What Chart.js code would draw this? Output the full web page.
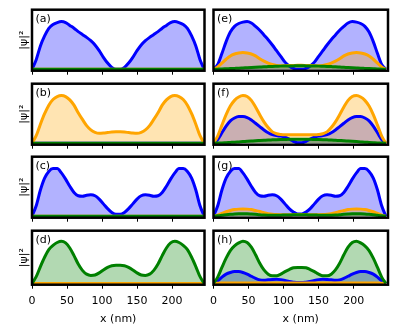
<!DOCTYPE html>
<html>
<head>
<meta charset="utf-8">
<script src="https://cdn.jsdelivr.net/npm/chart.js@4.4.0/dist/chart.umd.min.js"></script>
<style>
  html, body { margin: 0; padding: 0; background: #fff; }
  body { width: 399px; height: 333px; position: relative; overflow: hidden; }
</style>
</head>
<body>
<script>
// positions along the structure (nm)
const xs = [0,6,12,18,24,30,36,42,48,54,60,66,72,78,84,90,96,102,108,114,120,
            126,132,138,144,150,156,162,168,174,180,186,192,198,204,210,216,222,228,234,240,246];

const zeros = [0,0,0,0,0,0,0,0,0,0,0,0,0,0,0,0,0,0,0,0,0,
               0,0,0,0,0,0,0,0,0,0,0,0,0,0,0,0,0,0,0,0,0];

// (a)-(d): single states
const aBlue = [0,0.2,0.49,0.7,0.86,0.94,0.98,1.0,0.98,0.92,0.86,0.79,0.73,0.67,0.6,0.51,0.39,0.25,0.13,0.04,0,
               0,0.04,0.13,0.25,0.39,0.51,0.6,0.67,0.73,0.79,0.86,0.92,0.98,1.0,0.98,0.94,0.86,0.7,0.49,0.2,0];
const bOrange = [0,0.16,0.4,0.62,0.8,0.92,0.98,1.0,0.98,0.91,0.8,0.64,0.5,0.37,0.28,0.23,0.21,0.215,0.225,0.235,0.24,
                 0.24,0.235,0.225,0.215,0.21,0.23,0.28,0.37,0.5,0.64,0.8,0.91,0.98,1.0,0.98,0.92,0.8,0.62,0.4,0.16,0];
const cBlue = [0,0.22,0.55,0.8,0.94,1.0,1.0,0.91,0.78,0.63,0.5,0.43,0.42,0.44,0.45,0.43,0.36,0.26,0.16,0.08,0.04,
               0.04,0.08,0.16,0.26,0.36,0.43,0.45,0.44,0.42,0.43,0.5,0.63,0.78,0.91,1.0,1.0,0.94,0.8,0.55,0.22,0];
const dGreen = [0,0.16,0.4,0.62,0.8,0.9,0.97,1.0,0.96,0.84,0.66,0.46,0.31,0.22,0.19,0.2,0.25,0.32,0.38,0.42,0.43,
                0.43,0.42,0.38,0.32,0.25,0.2,0.19,0.22,0.31,0.46,0.66,0.84,0.96,1.0,0.97,0.9,0.8,0.62,0.4,0.16,0];

// (e)-(h): mixed states
const eBlue = [0,0.1,0.33,0.58,0.78,0.9,0.96,0.99,1.0,0.97,0.9,0.82,0.72,0.62,0.51,0.39,0.27,0.15,0.07,0.02,0,
               0,0.02,0.07,0.15,0.27,0.39,0.51,0.62,0.72,0.82,0.9,0.97,1.0,0.99,0.96,0.9,0.78,0.58,0.33,0.1,0];
const eOrange = [0,0.05,0.13,0.21,0.28,0.32,0.34,0.35,0.34,0.32,0.28,0.22,0.17,0.13,0.1,0.08,0.075,0.075,0.078,0.08,0.082,
                 0.082,0.08,0.078,0.075,0.075,0.08,0.1,0.13,0.17,0.22,0.28,0.32,0.34,0.35,0.34,0.32,0.28,0.21,0.13,0.05,0];
const eGreen = [0,0.003,0.006,0.01,0.014,0.018,0.022,0.027,0.032,0.037,0.042,0.047,0.052,0.056,0.06,0.063,0.066,0.068,0.07,0.071,0.072,
                0.072,0.071,0.07,0.068,0.066,0.063,0.06,0.056,0.052,0.047,0.042,0.037,0.032,0.027,0.022,0.018,0.014,0.01,0.006,0.003,0];

const fBlue = [0,0.08,0.22,0.36,0.47,0.53,0.56,0.56,0.54,0.49,0.42,0.35,0.28,0.22,0.18,0.16,0.15,0.13,0.09,0.04,0.01,
               0.01,0.04,0.09,0.13,0.15,0.16,0.18,0.22,0.28,0.35,0.42,0.49,0.54,0.56,0.56,0.53,0.47,0.36,0.22,0.08,0];
const fOrange = [0,0.15,0.38,0.6,0.78,0.9,0.97,1.0,0.98,0.9,0.76,0.6,0.45,0.33,0.24,0.2,0.185,0.18,0.18,0.18,0.18,
                 0.18,0.18,0.18,0.18,0.185,0.2,0.24,0.33,0.45,0.6,0.76,0.9,0.98,1.0,0.97,0.9,0.78,0.6,0.38,0.15,0];
const fGreen = [0,0.004,0.008,0.013,0.018,0.023,0.029,0.035,0.041,0.047,0.053,0.058,0.063,0.068,0.072,0.076,0.079,0.081,0.083,0.084,0.085,
                0.085,0.084,0.083,0.081,0.079,0.076,0.072,0.068,0.063,0.058,0.053,0.047,0.041,0.035,0.029,0.023,0.018,0.013,0.008,0.004,0];

const gBlue = [0,0.22,0.55,0.8,0.94,1.0,1.0,0.91,0.78,0.63,0.5,0.43,0.42,0.44,0.45,0.43,0.36,0.26,0.16,0.09,0.05,
               0.05,0.09,0.16,0.26,0.36,0.43,0.45,0.44,0.42,0.43,0.5,0.63,0.78,0.91,1.0,1.0,0.94,0.8,0.55,0.22,0];
const gOrange = [0,0.025,0.06,0.095,0.12,0.14,0.15,0.155,0.15,0.14,0.12,0.1,0.075,0.055,0.042,0.035,0.032,0.032,0.033,0.035,0.036,
                 0.036,0.035,0.033,0.032,0.032,0.035,0.042,0.055,0.075,0.1,0.12,0.14,0.15,0.155,0.15,0.14,0.12,0.095,0.06,0.025,0];
const gGreen = [0,0.01,0.02,0.032,0.042,0.05,0.054,0.055,0.053,0.047,0.04,0.032,0.026,0.022,0.02,0.021,0.023,0.026,0.028,0.03,0.03,
                0.03,0.03,0.028,0.026,0.023,0.021,0.02,0.022,0.026,0.032,0.04,0.047,0.053,0.055,0.054,0.05,0.042,0.032,0.02,0.01,0];

const hBlue = [0,0.06,0.15,0.22,0.26,0.28,0.28,0.26,0.22,0.17,0.12,0.085,0.075,0.085,0.095,0.1,0.09,0.07,0.045,0.03,0.02,
               0.02,0.03,0.045,0.07,0.09,0.1,0.095,0.085,0.075,0.085,0.12,0.17,0.22,0.26,0.28,0.28,0.26,0.22,0.15,0.06,0];
const hOrange = [0,0.006,0.01,0.012,0.013,0.013,0.013,0.013,0.013,0.013,0.013,0.013,0.013,0.013,0.013,0.013,0.013,0.013,0.013,0.013,0.013,
                 0.013,0.013,0.013,0.013,0.013,0.013,0.013,0.013,0.013,0.013,0.013,0.013,0.013,0.013,0.013,0.013,0.013,0.012,0.01,0.006,0];
const hGreen = [0,0.15,0.38,0.6,0.78,0.89,0.96,1.0,0.97,0.86,0.68,0.48,0.32,0.22,0.18,0.18,0.22,0.28,0.33,0.37,0.38,
                0.38,0.37,0.33,0.28,0.22,0.18,0.18,0.22,0.32,0.48,0.68,0.86,0.97,1.0,0.96,0.89,0.78,0.6,0.38,0.15,0];

const xTicks = [0, 50, 100, 150, 200];
const xTitle = 'x (nm)';
const yTitle = '|ψ|²';

// black box round the plot area + the panel letter
const frame = {
  id: 'frame',
  afterDatasetsDraw(chart, args, opts) {
    const { ctx, chartArea: a } = chart;
    ctx.save();
    ctx.strokeStyle = '#000';
    ctx.lineWidth = 2.5;
    ctx.strokeRect(a.left, a.top, a.right - a.left, a.bottom - a.top);
    ctx.fillStyle = '#000';
    ctx.font = '11px "DejaVu Sans"';
    ctx.textBaseline = 'alphabetic';
    ctx.fillText(opts.text, a.left + 3.5, a.top + 12.5);
    ctx.restore();
  }
};

function ds(vals, line, fill, order) {
  return {
    data: xs.map((x, i) => ({ x: x, y: vals[i] })),
    borderColor: line,
    backgroundColor: fill,
    borderWidth: 3,
    pointRadius: 0,
    fill: 'origin',
    cubicInterpolationMode: 'monotone',
    order: order
  };
}

const rowTop = [3, 77, 150, 224];

function panel(name, blue, orange, green, col, row) {
  const last = row === 3;
  const box = document.createElement('div');
  box.style.position = 'absolute';
  box.style.left = (col ? 200 : 0) + 'px';
  box.style.top = rowTop[row] + 'px';
  box.style.width = (col ? 199 : 210) + 'px';
  box.style.height = (last ? 109 : 74) + 'px';
  const cv = document.createElement('canvas');
  box.appendChild(cv);
  document.body.appendChild(box);

  new Chart(cv, {
    type: 'line',
    data: {
      datasets: [
        ds(blue, '#0000ff', 'rgba(0,0,255,0.3)', 3),
        ds(orange, '#ffa500', 'rgba(255,165,0,0.3)', 2),
        ds(green, '#008000', 'rgba(0,128,0,0.3)', 1)
      ]
    },
    options: {
      responsive: true,
      maintainAspectRatio: false,
      animation: false,
      layout: { padding: { left: col ? 13.5 : 13.8, right: col ? 11 : 5.5, top: 6.7, bottom: last ? 8.3 : 2.3 } },
      plugins: {
        legend: { display: false },
        tooltip: { enabled: false },
        filler: { drawTime: 'beforeDatasetsDraw' },
        frame: { text: '(' + name + ')' }
      },
      scales: {
        x: {
          type: 'linear',
          min: 0,
          max: col ? 249 : 246.4,
          afterBuildTicks: s => { s.ticks = xTicks.map(v => ({ value: v })); },
          ticks: {
            display: last,
            padding: 7,
            color: '#000',
            maxRotation: 0,
            font: { family: 'DejaVu Sans', size: 11, lineHeight: 1 }
          },
          grid: { display: true, drawOnChartArea: false, drawTicks: true, tickLength: 4, color: '#000', lineWidth: 1 },
          border: { display: false },
          title: {
            display: last,
            text: xTitle,
            color: '#000',
            padding: 0,
            font: { family: 'DejaVu Sans', size: 11, lineHeight: 1 }
          }
        },
        y: {
          min: -0.03,
          max: 1.25,
          display: col === 0,
          ticks: { display: false },
          grid: { display: false, drawTicks: false },
          border: { display: false },
          title: {
            display: true,
            text: yTitle,
            color: '#000',
            padding: { top: 4, bottom: 1 },
            font: { family: 'DejaVu Sans', size: 11 }
          }
        }
      }
    },
    plugins: [frame]
  });
}

panel('a', aBlue, zeros, zeros, 0, 0);
panel('b', zeros, bOrange, zeros, 0, 1);
panel('c', cBlue, zeros, zeros, 0, 2);
panel('d', zeros, zeros, dGreen, 0, 3);
panel('e', eBlue, eOrange, eGreen, 1, 0);
panel('f', fBlue, fOrange, fGreen, 1, 1);
panel('g', gBlue, gOrange, gGreen, 1, 2);
panel('h', hBlue, hOrange, hGreen, 1, 3);
</script>
</body>
</html>
